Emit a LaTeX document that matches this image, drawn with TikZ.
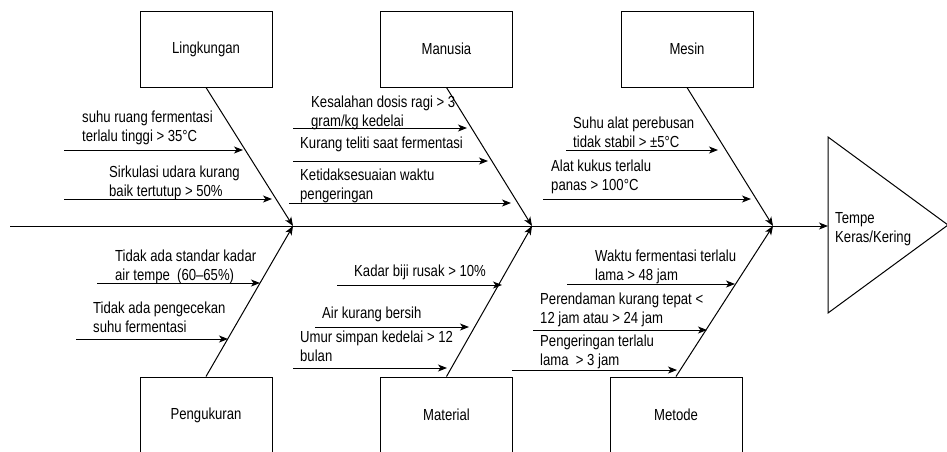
\documentclass[tikz,border=0pt]{standalone}
\usepackage{fontspec}
\setmainfont{Liberation Sans}[FakeStretch=0.82]
\usetikzlibrary{arrows.meta}
\begin{document}
\begin{tikzpicture}[x=1pt,y=-1pt,
  box/.style={draw, line width=1pt, minimum width=132pt, minimum height=76pt, inner sep=0pt, font=\fontsize{16}{19}\selectfont},
  lbl/.style={inner sep=0pt, align=left, anchor=base west, font=\fontsize{16}{19}\selectfont},
  arr/.style={line width=1pt, -{Stealth[length=9pt,width=7pt,inset=2.5pt]}},
  ln/.style={line width=1pt}]
\useasboundingbox (0,0) rectangle (947,451);
\clip (0,0) rectangle (947,451);

% category boxes
\node[box] (ling) at (206,49) {Lingkungan};
\node[box] (manu) at (446.5,49) {Manusia};
\node[box] (mesin) at (687,49) {Mesin};
\node[box] (peng) at (206,415) {Pengukuran};
\node[box] (mat) at (446.5,415) {Material};
\node[box] (meto) at (676,415) {Metode};

% spine and head
\coordinate (tail) at (10,226);
\coordinate (head) at (828,226);
\coordinate (jL) at (293,226);
\coordinate (jM) at (532,226);
\coordinate (jE) at (773,226);
\coordinate (t1) at (828,137);
\coordinate (t2) at (948,225);
\coordinate (t3) at (828,313);
\draw[ln] (t1) -- (t2) -- (t3) -- cycle;
\node[lbl] (effect) at (835,242) {Tempe\\Keras/Kering};
\draw[arr] (tail) -- (head);

% bones
\draw[arr] (ling.south) -- (jL);
\draw[arr] (manu.south) -- (jM);
\draw[arr] (mesin.south) -- (jE);
\draw[arr] (peng.north) -- (jL);
\draw[arr] (mat.north) -- (jM);
\draw[arr] (meto.north) -- (jE);

% Lingkungan causes
\node[lbl] (l1) at (82,141) {suhu ruang fermentasi\\terlalu tinggi > 35°C};
\coordinate (l1a) at (64,150); \coordinate (l1b) at (243,150);
\draw[arr] (l1a) -- (l1b);
\node[lbl] (l2) at (109,196) {Sirkulasi udara kurang\\baik tertutup > 50\%};
\coordinate (l2a) at (64,199); \coordinate (l2b) at (272,199);
\draw[arr] (l2a) -- (l2b);

% Manusia causes
\node[lbl] (m1) at (311,126) {Kesalahan dosis ragi > 3\\gram/kg kedelai};
\coordinate (m1a) at (293,128); \coordinate (m1b) at (467,128);
\draw[arr] (m1a) -- (m1b);
\node[lbl] (m2) at (300,148) {Kurang teliti saat fermentasi};
\coordinate (m2a) at (293,161); \coordinate (m2b) at (488,161);
\draw[arr] (m2a) -- (m2b);
\node[lbl] (m3) at (300,199) {Ketidaksesuaian waktu\\pengeringan};
\coordinate (m3a) at (289,203); \coordinate (m3b) at (511,203);
\draw[arr] (m3a) -- (m3b);

% Mesin causes
\node[lbl] (e1) at (573,147) {Suhu alat perebusan\\tidak stabil > ±5°C};
\coordinate (e1a) at (566,150); \coordinate (e1b) at (718,150);
\draw[arr] (e1a) -- (e1b);
\node[lbl] (e2) at (551,190) {Alat kukus terlalu\\panas > 100°C};
\coordinate (e2a) at (543,199); \coordinate (e2b) at (751,199);
\draw[arr] (e2a) -- (e2b);

% Pengukuran causes
\node[lbl] (p1) at (115,280) {Tidak ada standar kadar\\air tempe\ \ (60–65\%)};
\coordinate (p1a) at (97,283); \coordinate (p1b) at (260,283);
\draw[arr] (p1a) -- (p1b);
\node[lbl] (p2) at (93,332) {Tidak ada pengecekan\\suhu fermentasi};
\coordinate (p2a) at (76,339); \coordinate (p2b) at (228,339);
\draw[arr] (p2a) -- (p2b);

% Material causes
\node[lbl] (r1) at (354,276) {Kadar biji rusak > 10\%};
\coordinate (r1a) at (337,285); \coordinate (r1b) at (502,285);
\draw[arr] (r1a) -- (r1b);
\node[lbl] (r2) at (322,318) {Air kurang bersih};
\coordinate (r2a) at (315,327); \coordinate (r2b) at (469,327);
\draw[arr] (r2a) -- (r2b);
\node[lbl] (r3) at (300,361) {Umur simpan kedelai > 12\\bulan};
\coordinate (r3a) at (293,368); \coordinate (r3b) at (447,368);
\draw[arr] (r3a) -- (r3b);

% Metode causes
\node[lbl] (d1) at (595,280) {Waktu fermentasi terlalu\\lama > 48 jam};
\coordinate (d1a) at (567,284); \coordinate (d1b) at (735,284);
\draw[arr] (d1a) -- (d1b);
\node[lbl] (d2) at (540,323) {Perendaman kurang tepat <\\12 jam atau > 24 jam};
\coordinate (d2a) at (533,330); \coordinate (d2b) at (707,330);
\draw[arr] (d2a) -- (d2b);
\node[lbl] (d3) at (540,365) {Pengeringan terlalu\\lama\ \ > 3 jam};
\coordinate (d3a) at (512,370); \coordinate (d3b) at (677,370);
\draw[arr] (d3a) -- (d3b);
\end{tikzpicture}
\end{document}
